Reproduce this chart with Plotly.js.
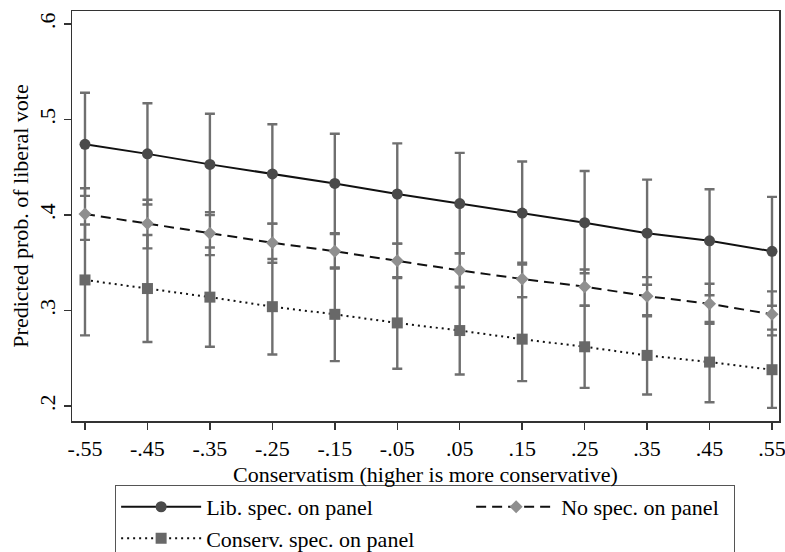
<!DOCTYPE html>
<html>
<head>
<meta charset="utf-8">
<script src="https://cdn.plot.ly/plotly-3.0.1.min.js"></script>
<style>html,body{margin:0;padding:0;background:#fff;}#chart{width:785px;height:552px;}</style>
</head>
<body>
<div id="chart"></div>
<script>
// Conservatism values (x)
const xVals = [-0.55, -0.45, -0.35, -0.25, -0.15, -0.05, 0.05, 0.15, 0.25, 0.35, 0.45, 0.55];
const xTickLabels = ["-.55", "-.45", "-.35", "-.25", "-.15", "-.05", ".05", ".15", ".25", ".35", ".45", ".55"];
const yTickVals = [0.2, 0.3, 0.4, 0.5, 0.6];
const yTickLabels = [".2", ".3", ".4", ".5", ".6"];

// Lib. spec. on panel
const libMean  = [0.474, 0.464, 0.453, 0.443, 0.433, 0.422, 0.412, 0.402, 0.392, 0.381, 0.373, 0.362];
const libUpper = [0.528, 0.517, 0.506, 0.495, 0.485, 0.475, 0.465, 0.456, 0.446, 0.437, 0.427, 0.419];
const libLower = [0.420, 0.411, 0.400, 0.391, 0.381, 0.370, 0.360, 0.348, 0.339, 0.327, 0.316, 0.305];

// No spec. on panel
const noMean  = [0.401, 0.391, 0.381, 0.371, 0.362, 0.352, 0.342, 0.333, 0.325, 0.315, 0.307, 0.296];
const noUpper = [0.428, 0.416, 0.403, 0.391, 0.380, 0.370, 0.360, 0.350, 0.343, 0.335, 0.328, 0.320];
const noLower = [0.374, 0.365, 0.358, 0.350, 0.344, 0.334, 0.324, 0.314, 0.305, 0.295, 0.286, 0.274];

// Conserv. spec. on panel
const conMean  = [0.332, 0.323, 0.314, 0.304, 0.296, 0.287, 0.279, 0.270, 0.262, 0.253, 0.246, 0.238];
const conUpper = [0.390, 0.379, 0.366, 0.354, 0.345, 0.335, 0.325, 0.314, 0.305, 0.294, 0.288, 0.280];
const conLower = [0.274, 0.267, 0.262, 0.254, 0.247, 0.239, 0.233, 0.226, 0.219, 0.212, 0.204, 0.198];

const FONT = "Liberation Serif";
const ERR_COLOR = "#6f6f6f";

function errTrace(mean, upper, lower) {
  return {
    x: xVals, y: mean, type: "scatter", mode: "markers",
    marker: {size: 1, opacity: 0},
    showlegend: false, hoverinfo: "skip",
    error_y: {
      type: "data", symmetric: false,
      array: upper.map((u, i) => u - mean[i]),
      arrayminus: lower.map((l, i) => mean[i] - l),
      color: ERR_COLOR, thickness: 2.4, width: 5
    }
  };
}

const traces = [
  errTrace(libMean, libUpper, libLower),
  errTrace(noMean, noUpper, noLower),
  errTrace(conMean, conUpper, conLower),
  {
    x: xVals, y: libMean, type: "scatter", mode: "lines+markers",
    name: "Lib. spec. on panel", legendwidth: 260,
    line: {color: "#111", width: 2, dash: "solid"},
    marker: {symbol: "circle", size: 11, color: "#4a4a4a"}
  },
  {
    x: xVals, y: noMean, type: "scatter", mode: "lines+markers",
    name: "No spec. on panel", legendwidth: 168,
    line: {color: "#111", width: 2, dash: "10px,6px"},
    marker: {symbol: "diamond", size: 10, color: "#8f8f8f"}
  },
  {
    x: xVals, y: conMean, type: "scatter", mode: "lines+markers",
    name: "Conserv. spec. on panel", legendwidth: 220,
    line: {color: "#111", width: 2, dash: "2px,4px"},
    marker: {symbol: "square", size: 11, color: "#686868"}
  }
];

const axisFont = {family: FONT, size: 22, color: "#000"};

const layout = {
  width: 785, height: 552,
  margin: {l: 72, r: 6, t: 11, b: 131, pad: 0, autoexpand: false},
  paper_bgcolor: "#fff", plot_bgcolor: "#fff",
  font: axisFont,
  xaxis: {
    range: [-0.5708, 0.5612],
    tickmode: "array", tickvals: xVals, ticktext: xTickLabels,
    ticks: "outside", ticklen: 7, tickwidth: 1.5, tickcolor: "#333",
    showline: true, linecolor: "#333", linewidth: 1.5, mirror: true,
    showgrid: false, zeroline: false,
    ticklabeloverflow: "allow",
    tickfont: axisFont,
    title: {text: "Conservatism (higher is more conservative)", font: axisFont, standoff: 6}
  },
  yaxis: {
    range: [0.1843, 0.6136],
    tickmode: "array", tickvals: yTickVals, ticktext: yTickLabels,
    tickangle: -90,
    ticks: "outside", ticklen: 7, tickwidth: 1.5, tickcolor: "#333",
    showline: true, linecolor: "#333", linewidth: 1.5, mirror: true,
    showgrid: false, zeroline: false,
    ticklabeloverflow: "allow",
    tickfont: axisFont,
    title: {text: "Predicted prob. of liberal vote", font: axisFont, standoff: 0}
  },
  showlegend: true,
  legend: {
    orientation: "h",
    x: 0.061, xanchor: "left",
    y: -0.156, yanchor: "top",
    xref: "paper", yref: "paper",
    bordercolor: "#555", borderwidth: 1, bgcolor: "#fff",
    font: axisFont,
    entrywidthmode: "pixels",
    itemwidth: 80,
    traceorder: "normal"
  }
};

Plotly.newPlot("chart", traces, layout, {displayModeBar: false, staticPlot: true});
</script>
</body>
</html>
